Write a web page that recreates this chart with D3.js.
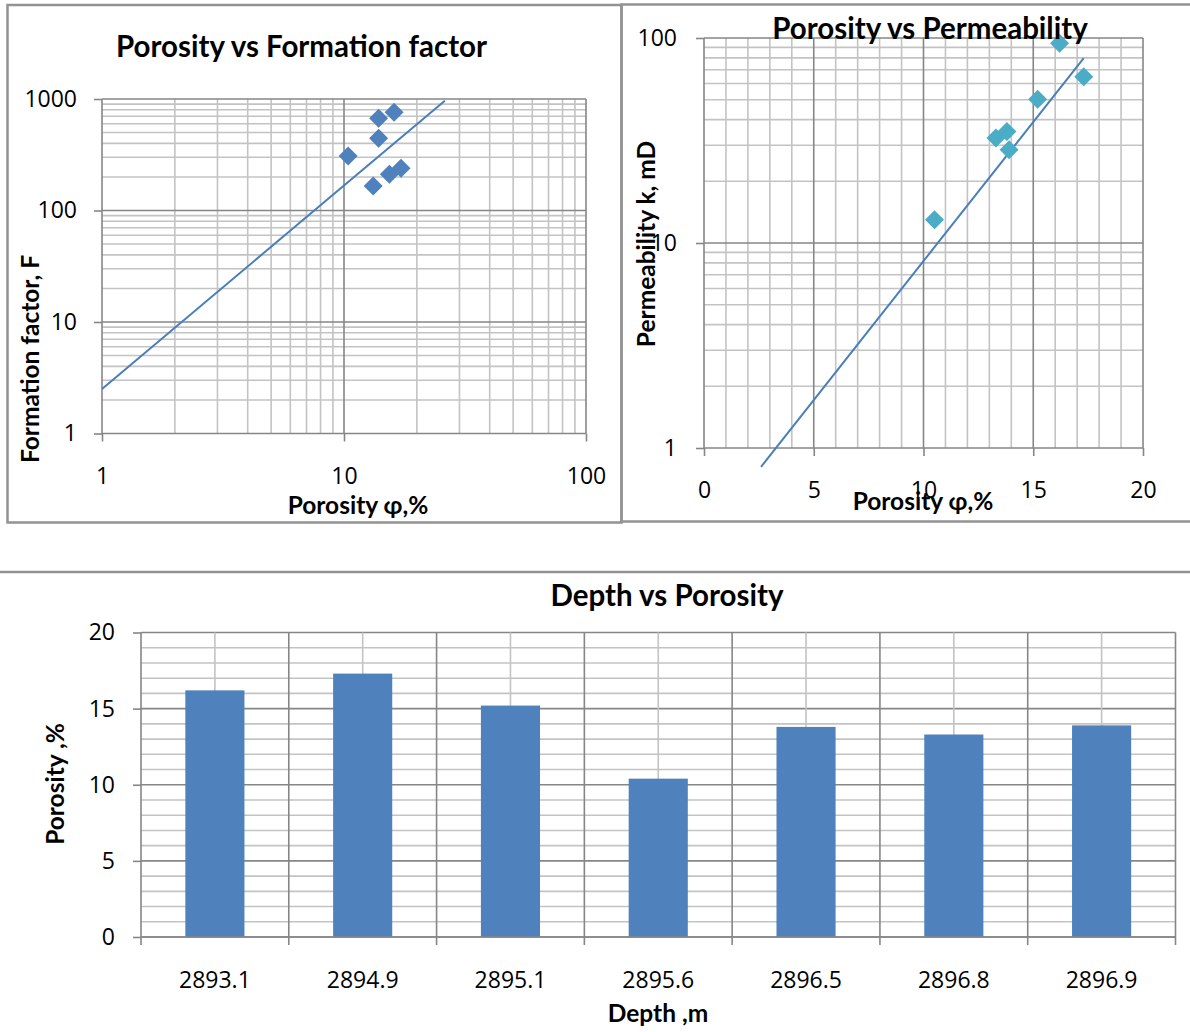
<!DOCTYPE html>
<html>
<head>
<meta charset="utf-8">
<script src="https://cdn.jsdelivr.net/npm/d3@7"></script>
<style>
  body { margin: 0; background: #fff; }
  svg { display: block; font-family: Lato, "Open Sans", "DejaVu Sans", sans-serif; }
</style>
</head>
<body>
<svg id="chart" width="1190" height="1032"></svg>
<script>
// ---- Porosity vs Formation factor (log-log) ----
const ffPorosity = [10.4, 13.9, 16.1, 13.9, 13.2, 15.4, 17.2];
const ffFactor   = [308, 671, 760, 444, 166, 211, 239];
const ffTrendPorosity = [1, 26.1];
const ffTrendFactor   = [2.51, 966];
const ffXTicks = [1, 10, 100];
const ffYTicks = [1, 10, 100, 1000];

// ---- Porosity vs Permeability (semi-log) ----
const permPorosity = [10.5, 13.3, 13.8, 13.9, 15.2, 16.2, 17.3];
const permK        = [13.0, 32.5, 35.0, 28.5, 50.3, 94.2, 64.8];
const permTrendPorosity = [2.6, 17.3];
const permTrendK        = [0.81, 79.8];
const permXTicks = [0, 5, 10, 15, 20];
const permYTicks = [1, 10, 100];

// ---- Depth vs Porosity (columns) ----
const depths        = ["2893.1", "2894.9", "2895.1", "2895.6", "2896.5", "2896.8", "2896.9"];
const depthPorosity = [16.2, 17.3, 15.2, 10.4, 13.8, 13.3, 13.9];
const depthYTicks   = [0, 5, 10, 15, 20];

const MAJOR = "#868686", MINOR = "#c3c3c3", FRAME = "#929292";
const BLUE = "#4f81bd", AQUA = "#4bacc6", TREND = "#4a7ebb";
const TITLE_FONT = 'Lato, "Open Sans", sans-serif';
const TICK_FONT = '"Open Sans", Lato, sans-serif';
const TICK_FS = 23, AXIS_FS = 24.5, TITLE_FS = 29.5;

const svg = d3.select("#chart");
svg.append("rect").attr("width", 1190).attr("height", 1032).attr("fill", "#fff");

const diamond = r => `M0,${-r}L${r},0L0,${r}L${-r},0Z`;

// Gridlines: light ones first, dark major ones on top
function grid(g, x, y, xVals, yVals, xMajor, yMajor) {
  const [x0, x1] = x.range(), [y0, y1] = y.range();
  const lines = [];
  xVals.forEach(v => lines.push({x1: x(v), x2: x(v), y1: y0, y2: y1, major: xMajor.includes(v)}));
  yVals.forEach(v => lines.push({x1: x0, x2: x1, y1: y(v), y2: y(v), major: yMajor.includes(v)}));
  lines.sort((a, b) => a.major - b.major);
  g.append("g").selectAll("line").data(lines).join("line")
    .attr("x1", d => d.x1).attr("x2", d => d.x2)
    .attr("y1", d => d.y1).attr("y2", d => d.y2)
    .attr("stroke", d => d.major ? MAJOR : MINOR)
    .attr("stroke-width", 1.6);
}

function styleAxis(g) {
  g.attr("font-family", TICK_FONT).attr("font-size", TICK_FS);
  g.select(".domain").remove();
  g.selectAll(".tick line").attr("stroke", MAJOR).attr("stroke-width", 1.6);
  g.selectAll(".tick text").attr("fill", "#000");
}

function boldText(g, txt, x, y, size, rotate) {
  const t = g.append("text").text(txt)
    .attr("text-anchor", "middle").attr("font-weight", "bold")
    .attr("font-family", TITLE_FONT)
    .style("font-size", size + "px").attr("fill", "#000");
  if (rotate) t.attr("transform", `translate(${x},${y}) rotate(-90)`);
  else t.attr("x", x).attr("y", y);
  return t;
}

// ================= Panel 1: Porosity vs Formation factor =================
{
  const g = svg.append("g");
  g.append("rect").attr("x", 7.5).attr("y", 5).attr("width", 614).attr("height", 517.5)
    .attr("fill", "#fff").attr("stroke", FRAME).attr("stroke-width", 2.5);

  const x = d3.scaleLog().domain([1, 100]).range([102, 586]);
  const y = d3.scaleLog().domain([1, 1000]).range([433.5, 99]);

  grid(g, x, y, x.ticks(), y.ticks(), ffXTicks, ffYTicks);

  g.append("g").attr("transform", "translate(0,433.5)")
    .call(d3.axisBottom(x).tickValues(ffXTicks).tickFormat(d3.format("d")).tickSize(8).tickPadding(26))
    .call(styleAxis);
  g.append("g").attr("transform", "translate(102,0)")
    .call(d3.axisLeft(y).tickValues(ffYTicks).tickFormat(d3.format("d")).tickSize(8).tickPadding(17))
    .call(styleAxis);

  const trend = ffTrendPorosity.map((p, i) => [p, ffTrendFactor[i]]);
  g.append("path").datum(trend)
    .attr("d", d3.line().x(d => x(d[0])).y(d => y(d[1])))
    .attr("fill", "none").attr("stroke", TREND).attr("stroke-width", 2);

  g.append("g").selectAll("path").data(ffPorosity.map((p, i) => [p, ffFactor[i]])).join("path")
    .attr("d", diamond(9.5))
    .attr("transform", d => `translate(${x(d[0])},${y(d[1])})`)
    .attr("fill", BLUE);

  boldText(g, "Porosity vs Formation factor", 301.5, 57, TITLE_FS);
  boldText(g, "Porosity φ,%", 358, 513.5, AXIS_FS);
  boldText(g, "Formation factor, F", 39, 359, AXIS_FS, true);
}

// ================= Panel 2: Porosity vs Permeability =================
{
  const g = svg.append("g");
  g.append("path").attr("d", "M621.5,522V4.5H1190M621.5,521.5H1190")
    .attr("fill", "none").attr("stroke", FRAME).attr("stroke-width", 2.5);

  const x = d3.scaleLinear().domain([0, 20]).range([704, 1143]);
  const y = d3.scaleLog().domain([1, 100]).range([448, 38]);

  grid(g, x, y, x.ticks(20), y.ticks(), permXTicks, permYTicks);

  g.append("g").attr("transform", "translate(0,448)")
    .call(d3.axisBottom(x).tickValues(permXTicks).tickFormat(d3.format("d")).tickSize(8).tickPadding(25.5))
    .call(styleAxis);
  g.append("g").attr("transform", "translate(704,0)")
    .call(d3.axisLeft(y).tickValues(permYTicks).tickFormat(d3.format("d")).tickSize(8).tickPadding(19))
    .call(styleAxis);

  const trend = permTrendPorosity.map((p, i) => [p, permTrendK[i]]);
  g.append("path").datum(trend)
    .attr("d", d3.line().x(d => x(d[0])).y(d => y(d[1])))
    .attr("fill", "none").attr("stroke", TREND).attr("stroke-width", 2);

  g.append("g").selectAll("path").data(permPorosity.map((p, i) => [p, permK[i]])).join("path")
    .attr("d", diamond(9.5))
    .attr("transform", d => `translate(${x(d[0])},${y(d[1])})`)
    .attr("fill", AQUA);

  boldText(g, "Porosity vs Permeability", 930, 39, TITLE_FS);
  boldText(g, "Porosity φ,%", 923, 510, AXIS_FS);
  boldText(g, "Permeability k, mD", 655, 244, AXIS_FS, true);
}

// ================= Panel 3: Depth vs Porosity =================
{
  const g = svg.append("g");
  g.append("line").attr("x1", 0).attr("x2", 1190).attr("y1", 572).attr("y2", 572)
    .attr("stroke", FRAME).attr("stroke-width", 2.5);

  const x = d3.scaleBand().domain(depths).range([141, 1175.5]).paddingInner(0.6).paddingOuter(0.3);
  const y = d3.scaleLinear().domain([0, 20]).range([937, 632.5]);
  const step = x.step();
  const edge = d => x(d) + x.bandwidth() / 2 - step / 2;
  const centre = d => x(d) + x.bandwidth() / 2;

  // horizontal grid
  const hVals = y.ticks(20);
  g.append("g").selectAll("line").data(hVals.slice().sort((a, b) => depthYTicks.includes(a) - depthYTicks.includes(b)))
    .join("line")
    .attr("x1", 141).attr("x2", 1175.5).attr("y1", d => y(d)).attr("y2", d => y(d))
    .attr("stroke", d => depthYTicks.includes(d) ? MAJOR : MINOR).attr("stroke-width", 1.6);
  // vertical grid: light through category centres, dark on category edges
  g.append("g").selectAll("line").data(depths).join("line")
    .attr("x1", centre).attr("x2", centre).attr("y1", 632.5).attr("y2", 937)
    .attr("stroke", MINOR).attr("stroke-width", 1.6);
  const edges = depths.map(edge).concat([edge(depths[depths.length - 1]) + step]);
  g.append("g").selectAll("line").data(edges).join("line")
    .attr("x1", d => d).attr("x2", d => d).attr("y1", 632.5).attr("y2", 945)
    .attr("stroke", MAJOR).attr("stroke-width", 1.6);

  g.append("g").selectAll("rect").data(depths.map((d, i) => [d, depthPorosity[i]])).join("rect")
    .attr("x", d => x(d[0])).attr("width", x.bandwidth())
    .attr("y", d => y(d[1])).attr("height", d => y(0) - y(d[1]))
    .attr("fill", BLUE);

  g.append("line").attr("x1", 141).attr("x2", 1175.5).attr("y1", y(0)).attr("y2", y(0))
    .attr("stroke", MAJOR).attr("stroke-width", 1.6);

  g.append("g").attr("transform", `translate(0,${y(0)})`)
    .call(d3.axisBottom(x).tickSize(0).tickPadding(34.7))
    .call(styleAxis);
  g.append("g").attr("transform", "translate(141,0)")
    .call(d3.axisLeft(y).tickValues(depthYTicks).tickSize(8).tickPadding(18))
    .call(styleAxis);

  boldText(g, "Depth vs Porosity", 667, 606, TITLE_FS);
  boldText(g, "Depth ,m", 658, 1022, AXIS_FS);
  boldText(g, "Porosity ,%", 64, 784, AXIS_FS, true);
}
</script>
</body>
</html>
